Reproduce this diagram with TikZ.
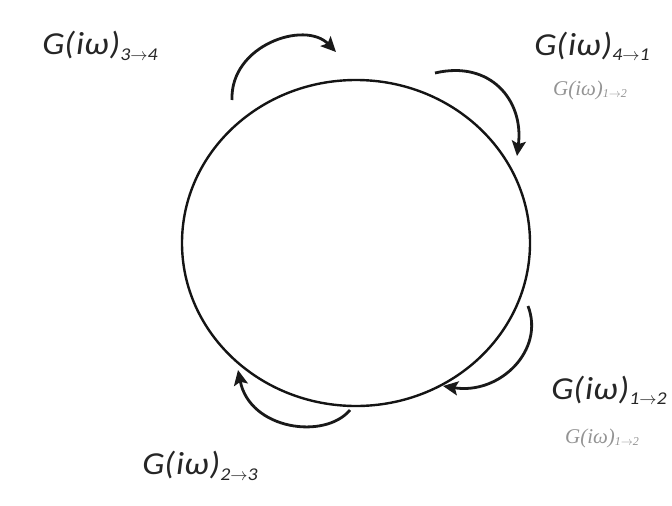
\documentclass[tikz,border=0pt]{standalone}
\usepackage{fontspec}
\setmainfont{Carlito}
\newfontfamily\lblfont[FakeStretch=1.1]{Carlito}
\newfontfamily\faintfont{Liberation Serif}
\usetikzlibrary{arrows.meta,shapes.geometric}
\newcommand{\gsub}[1]{G(\kern1ptiω\kern1pt)\raisebox{-0.35ex}{\fontsize{18}{19}\selectfont #1}}
\newcommand{\gfaint}[1]{G(iω)\raisebox{-0.3ex}{\fontsize{12}{13}\selectfont #1}}
\begin{document}
\begin{tikzpicture}[x=1pt,y=-1pt,
  lbl/.style={font=\fontsize{32}{35}\lblfont\itshape, text=black!85},
  faint/.style={font=\fontsize{21}{24}\faintfont\itshape, text=black!42},
  flow/.style={line width=2.8pt, black!90, -{Stealth[length=15pt,width=14pt,inset=3pt]}},
  ring/.style={line width=2.4pt, draw=black!92}]
\useasboundingbox (0,0) rectangle (672,506);
\node[ring, ellipse, minimum width=348, minimum height=326, inner sep=0] (c) at (356,243) {};
% arrows
\coordinate (a1s) at (232,100); \coordinate (a1e) at (336,52);
\coordinate (a2s) at (435,73);  \coordinate (a2e) at (517,156);
\coordinate (a3s) at (528,306); \coordinate (a3e) at (443,386);
\coordinate (a4s) at (350,410); \coordinate (a4e) at (238,370);
\draw[flow] (a1s) .. controls (230,45) and (305,20) .. (a1e);
\draw[flow] (a2s) .. controls (490,60) and (524,100) .. (a2e);
\draw[flow] (a3s) .. controls (545,350) and (500,395) .. (a3e);
\draw[flow] (a4s) .. controls (325,440) and (250,430) .. (a4e);
% labels
\node[lbl] (l34) at (100,46) {\gsub{3$\to$4}};
\node[lbl] (l41) at (592,46) {\gsub{4$\to$1}};
\node[faint] (f1) at (590,90) {\gfaint{1$\to$2}};
\node[lbl] (l12) at (609,390) {\gsub{1$\to$2}};
\node[faint] (f2) at (602,438) {\gfaint{1$\to$2}};
\node[lbl] (l23) at (200,466) {\gsub{2$\to$3}};
\end{tikzpicture}
\end{document}
